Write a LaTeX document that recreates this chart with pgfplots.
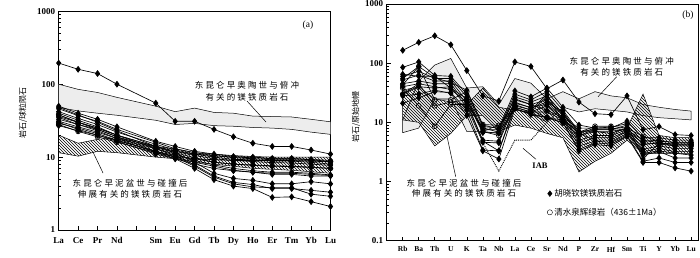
\documentclass[border=0pt]{standalone}
\usepackage{pgfplots}
\usepackage{pgfplotstable}
\pgfplotsset{compat=1.18}
\usepackage{fontspec}
\setmainfont{Liberation Serif}
\newfontfamily\cjk[LetterSpace=25]{Noto Sans CJK SC}
\newfontfamily\cjkn{Noto Sans CJK SC}
\usetikzlibrary{patterns}
\pgfplotsset{
  samp/.style={black, line width=0.65pt, mark=diamond*, mark size=2.9pt, mark options={solid, fill=black}},
  circ/.style={black, line width=0.65pt, mark=o, mark size=2.4pt, mark options={solid, fill=white}},
  fieldgray/.style={draw=black, line width=0.5pt, fill=black!7, mark=none},
  fieldhatch/.style={draw=black, line width=0.5pt, pattern=north west lines, mark=none},
}
% REE / chondrite (a): La Ce Pr Nd Sm Eu Gd Tb Dy Ho Er Tm Yb Lu
\pgfplotstableread{
x  T    A1   A2   A3   A4   A5   A6   A7   A8   A9   A10  A11  A12  C1   C2   C3
0  195  50   46   42   36   33   31   29   48   40   35   38   27   38   28   30
1  160  40   37   34   30   28   26   25   38   32   28   30   23   30   22.5 24
2  140  33   31   28   25   24   22   21   30   26   23   24   20   25   19   20
3  100  26   24   22   20   19   18   17   23   20   18   19   16.5 20   16   17
5  55   16.5 16   15   14   13.5 13   12   14   13   11.5 12   11   14   11.5 12
6  31   14   13   12.5 12   11.5 11   10   11.5 10.5 9.5  10   9.5  12   10   10.5
7  31   12   11.5 11   10.5 9.8  9    8.5  8.5  7.8  7    7.5  8    11   9.5  9.5
8  24   11   10.5 10   9.5  8.5  7.8  7.5  6    5.5  4.9  5.3  7    10.5 9.2  8.5
9  19   10.2 9.8  9.3  9    8    7    6.6  5.1  4.5  4    4.3  6.5  10   9    8
10 15.5 10   9.5  9.2  8.7  7.7  6.5  6.2  4.8  4.2  3.7  3.9  6.2  9.8  9    7.8
11 14   9.6  9.2  8.8  8.4  7.5  6.2  5.8  4.3  3.7  2.8  3.8  6    9.5  9    7.6
12 14   9.6  9.2  8.8  8.3  7.4  6.2  5.8  4.3  3.7  2.85 3.8  6    9.5  9    7.5
13 12.5 9.3  9    8.5  8    7.2  6    5.5  4.6  3.5  2.45 3.1  5.8  9.2  8.8  7.3
14 11   9    8.6  8    7.7  7    5.7  5.5  4.3  3.3  2.1  2.9  5.6  8.7  8.6  7
}\tabA
% spider / primitive mantle (b): Rb Ba Th U K Ta Nb La Ce Sr Nd P Zr Hf Sm Ti Y Yb Lu
\pgfplotstableread{
x  T    D1   D2   D3   D4   D5   D6   D7   D8   D9   D10  C1   C2   C3
0  165  85   60   52   45   30   21   28   55   40   65   43   38   30
1  225  105  73   63   50   40   26   30   88   45   60   88   19   45
2  290  62   55   50   45   38   33   35   57   40   60   24   8.6  19
3  205  60   55   50   45   40   32   31   47   36   38   24   20   22
4  75   30   27   23   20   18   16   13   35   22   25   33   20   24
5  28   8.5  7.5  6.7  5    4.6  3.4  3.3  9    4.8  7    9.2  8.1  7
6  23   8    7.5  6.7  4.8  4.5  3.3  2.4  7.8  3.3  6.5  8.9  6.8  6
7  105  34   30   27   24   21   18   17   25   20   22   19   17   18
8  88   27   24   22   20   18   15   13.5 20   16   17.5 16.4 14   15
9  37   38   33   28   24   20   19   12   16   30   22   11.9 12   15
10 52   18   16   14   13   12   11   9.8  12   10   15   11   10   11
11 22   9    7    6    5    4.5  4    3.3  8    3.5  6.5  6.8  6    6.5
12 14   8    7.5  7    6    5.5  4.8  4.2  8    4.5  5    8.6  7.6  8
13 13.5 8    7.5  6.5  6    5.5  4.6  4    8.3  4.3  5    8.6  7.6  8
14 28   10.5 9    8    7.5  7    6.5  5.8  9.5  6    7    8    7    7.5
15 7.5  5.5  4.8  4.2  3.5  3.2  2.8  2.1  2.4  2.2  3    5.8  4.5  5
16 8.5  5.5  5    4.5  4    3.6  3.2  2.1  4.5  2.5  3.3  4.8  4.3  4.5
17 6.2  5    4.5  4.2  3.6  3.2  2.5  1.7  4    2.1  3    4.6  4    4.3
18 6    5    4.5  4.2  3.6  3.2  2.5  1.5  4    2.1  2.8  4.6  4    4.3
}\tabB
\begin{document}
\begin{tikzpicture}[x=1pt,y=1pt]
\path[use as bounding box] (0,0) rectangle (700,257);
% ---------------- (a) ----------------
\begin{axis}[anchor=south west, scale only axis, ymode=log,
  tick align=inside, xtick pos=bottom, ytick pos=left,
  major tick length=4pt, minor tick length=2.2pt,
  tick style={black, line width=0.6pt},
  axis line style={line width=0.8pt},
  yticklabel style={font=\fontsize{9}{10}\selectfont\bfseries},
  at={(58.7pt,27pt)},
  width=271.8pt, height=218.7pt,
  ymin=1, ymax=1000, xmin=0, xmax=14,
  xtick={0,...,14}, xticklabels={La,Ce,Pr,Nd,{},Sm,Eu,Gd,Tb,Dy,Ho,Er,Tm,Yb,Lu},
  xticklabel style={font=\fontsize{9}{10}\selectfont\bfseries, yshift=-4pt},
  ytick={1,10,100,1000}, yticklabels={1,10,100,1000},
]
\addplot[fieldgray] coordinates {(0,100)(1,85)(2,77)(3,66)(5,50)(6,42)(7,47)(8,41)(9,40)(10,36.5)(11,36)(12,35.5)(13,33)(14,30.5)
  (14,20.5)(13,22)(12,24)(11,25)(10,25.5)(9,26.5)(8,27)(7,29)(6,28)(5,32)(3,37.5)(2,40)(1,43)(0,48)} -- cycle;
\addplot[fieldhatch] coordinates {(0,20)(1,15.5)(2,17.5)(3,18.5)(5,14)(6,13)(7,11.5)(8,11)(9,10.5)(10,10.2)(11,10)(12,10)(13,10)(14,10)
  (14,6)(13,6.3)(12,6.6)(11,6.8)(10,7)(9,7.5)(8,8)(7,8.5)(6,9.5)(5,10)(3,11.5)(2,12)(1,10.3)(0,11.5)} -- cycle;
\pgfplotsinvokeforeach{T,A1,A2,A3,A4,A5,A6,A7,A8,A9,A10,A11,A12}{
  \addplot[samp] table[x=x,y=#1]{\tabA};
}
\pgfplotsinvokeforeach{C1,C2,C3}{
  \addplot[circ] table[x=x,y=#1]{\tabA};
}
\end{axis}
% ---------------- (b) ----------------
\begin{axis}[anchor=south west, scale only axis, ymode=log,
  tick align=inside, xtick pos=bottom, ytick pos=left,
  major tick length=4pt, minor tick length=2.2pt,
  tick style={black, line width=0.6pt},
  axis line style={line width=0.8pt},
  yticklabel style={font=\fontsize{9}{10}\selectfont\bfseries},
  at={(386.7pt,16.3pt)},
  width=311.6pt, height=236.7pt,
  ymin=0.1, ymax=1000, xmin=-1, xmax=18.45,
  xtick={0,...,18}, xticklabels={Rb,Ba,Th,U,K,Ta,Nb,La,Ce,Sr,Nd,P,Zr,Hf,Sm,Ti,Y,Yb,Lu},
  xticklabel style={font=\fontsize{7.5}{9}\selectfont\bfseries, yshift=-2.5pt},
  ytick={0.1,1,10,100,1000}, yticklabels={0.1,1,10,100,1000},
  legend style={draw=none, fill=none, at={(0.505,0.235)}, anchor=north west,
    font=\cjkn\fontsize{8.5}{10}\selectfont, row sep=6pt, legend cell align=left},
]
\addplot[fieldgray, forget plot] coordinates {(0,11)(1,50)(2,93)(3,120)(4,38)(5,40)(6,20)(7,55)(8,46)(9,25)(10,33)(11,25)(12,33)(13,28)(14,26)(15,20)(16,18)(17,16.5)(18,15.5)
  (18,11)(17,11.5)(16,12)(15,13)(14,15)(13,16)(12,17)(11,15)(10,18)(9,10)(8,14)(7,17)(6,9)(5,7)(4,7)(3,25)(2,25)(1,8)(0,6.7)} -- cycle;
\addplot[fieldhatch, forget plot] coordinates {(0,35)(1,40)(2,25)(3,22)(4,20)(5,38)(6,18)(7,16)(8,15)(9,28)(10,14)(11,7)(12,7)(13,7)(14,8)(15,30)(16,6)(17,5.5)(18,5.5)
  (18,3)(17,3)(16,3)(15,3)(14,5)(13,3)(12,2.2)(11,1.45)(10,5.5)(9,6.5)(8,8)(7,9)(6,7)(5,13)(4,13)(3,6.5)(2,4)(1,10)(0,11)} -- cycle;
\addplot[black, line width=0.9pt, densely dotted, mark=none, forget plot] coordinates {(5,4.5)(6,1.5)(7,5)(8,5)(9,10)};
\pgfplotsinvokeforeach{T,D1,D2,D3,D4,D5,D6,D7,D8,D9,D10}{
  \addplot[samp, forget plot] table[x=x,y=#1]{\tabB};
}
\pgfplotsinvokeforeach{C1,C2,C3}{
  \addplot[circ, forget plot] table[x=x,y=#1]{\tabB};
}
\addlegendimage{only marks, mark=diamond*, mark size=2.9pt, black}
\addlegendentry{胡晓钦镁铁质岩石}
\addlegendimage{only marks, mark=o, mark size=2.6pt, black}
\addlegendentry{清水泉辉绿岩（436±1Ma）}
\end{axis}
% ---------------- annotations ----------------
\node[rotate=90, font=\cjkn\fontsize{8}{9}\selectfont] at (23,144) {岩石/球粒陨石};
\node[rotate=90, font=\cjkn\fontsize{8}{9}\selectfont] at (356,140) {岩石/原始地幔};
\node[font=\fontsize{9.5}{10}\selectfont] at (308,232) {(a)};
\node[font=\fontsize{9.5}{10}\selectfont] at (688,242) {(b)};
\node[align=center, font=\cjk\fontsize{8.5}{11.5}\selectfont] at (247,166) {东昆仑早奥陶世与俯冲\\有关的镁铁质岩石};
\draw[line width=0.5pt] (247,156) -- (266,135);
\node[align=center, font=\cjk\fontsize{8.5}{10.5}\selectfont] at (130,68) {东昆仑早泥盆世与碰撞后\\伸展有关的镁铁质岩石};
\draw[line width=0.5pt] (103,84) -- (93,105);
\node[align=center, font=\cjk\fontsize{8.5}{11}\selectfont] at (621.7,189.8) {东昆仑早奥陶世与俯冲\\有关的镁铁质岩石};
\draw[line width=0.5pt] (616.7,180.3) -- (598,160.3);
\node[align=center, font=\cjk\fontsize{8.5}{10.5}\selectfont] at (464,68.7) {东昆仑早泥盆世与碰撞后\\伸展有关的镁铁质岩石};
\draw[line width=0.5pt] (455.7,80.3) -- (446.7,122);
\node[font=\fontsize{8.5}{10}\selectfont\bfseries] at (540,91.3) {IAB};
\draw[line width=0.5pt] (536,97.7) -- (523,108.7);
\end{tikzpicture}
\end{document}
